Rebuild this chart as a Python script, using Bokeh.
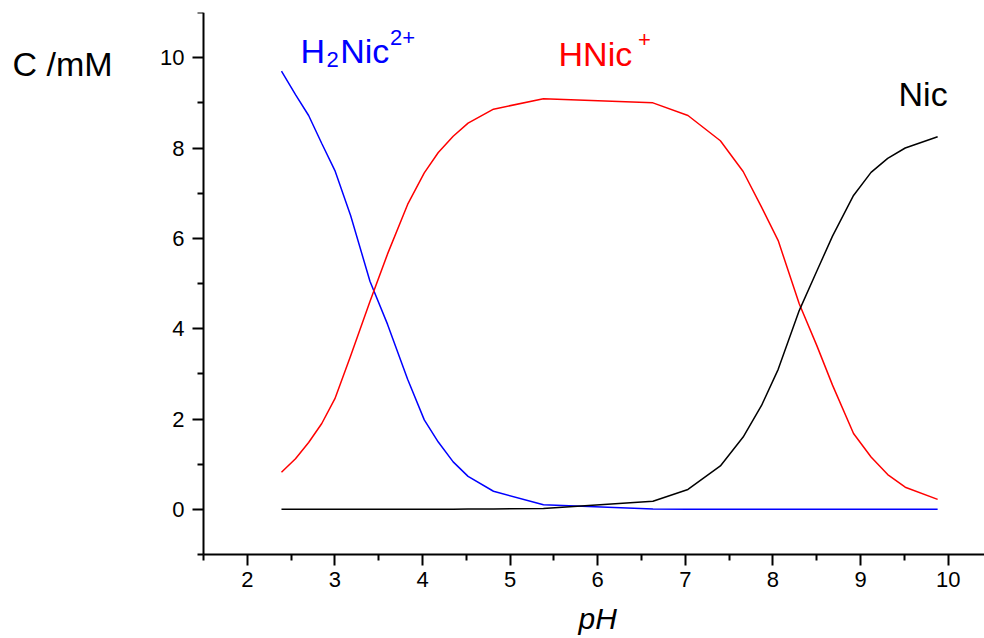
from bokeh.plotting import figure
from bokeh.models import Range1d, FixedTicker, Label, ColumnDataSource, LinearAxis
from bokeh.embed import file_html
from bokeh.resources import INLINE

# ---- data ----
ph = [2.39, 2.55, 2.70, 2.85, 3.00, 3.18, 3.40, 3.60, 3.83, 4.02, 4.18, 4.35, 4.52,
      4.81, 5.38, 6.63, 7.03, 7.40, 7.66, 7.87, 8.06, 8.30, 8.50, 8.68, 8.92, 9.12,
      9.31, 9.51, 9.88]
h2nic = [9.70, 9.18, 8.72, 8.10, 7.50, 6.50, 5.05, 4.10, 2.88, 1.98, 1.49, 1.05, 0.73,
         0.40, 0.10, 0.01, 0.0, 0.0, 0.0, 0.0, 0.0, 0.0, 0.0, 0.0, 0.0, 0.0,
         0.0, 0.0, 0.0]
hnic = [0.82, 1.12, 1.48, 1.90, 2.45, 3.40, 4.60, 5.65, 6.75, 7.45, 7.90, 8.26, 8.55,
        8.86, 9.09, 9.00, 8.72, 8.16, 7.48, 6.69, 5.95, 4.55, 3.63, 2.75, 1.68, 1.16,
        0.77, 0.49, 0.22]
nic = [0.0, 0.0, 0.0, 0.0, 0.0, 0.0, 0.0, 0.0, 0.0, 0.0, 0.0, 0.0, 0.005,
       0.01, 0.02, 0.18, 0.44, 0.96, 1.60, 2.30, 3.10, 4.40, 5.27, 6.05, 6.95, 7.46,
       7.77, 8.00, 8.25]

x_major = [2, 3, 4, 5, 6, 7, 8, 9, 10]
x_minor = [1.5, 2.5, 3.5, 4.5, 5.5, 6.5, 7.5, 8.5, 9.5, 10.5]
y_major = [0, 2, 4, 6, 8, 10]
y_minor = [-1, 1, 3, 5, 7, 9, 11]

FONT = "Liberation Sans"
X0, X1 = 1.5, 10.415          # drawn extent of the x axis
Y0, Y1 = -1, 11               # drawn extent of the y axis
PX_PER_X = 87.6
PX_PER_Y = 45.17
AXIS_X_PX = 203               # left position of the y axis (px)
AXIS_Y_GAP = 84               # distance of the x axis above the bottom (px)

p = figure(width=984, height=638, output_backend="svg", toolbar_location=None,
           x_range=Range1d(X0 - AXIS_X_PX / PX_PER_X, X1),
           y_range=Range1d(Y0 - AXIS_Y_GAP / PX_PER_Y, Y1),
           x_axis_location=None, y_axis_location=None,
           min_border_left=0, min_border_right=0, min_border_top=12,
           min_border_bottom=0, background_fill_color="white",
           border_fill_color="white")
p.outline_line_color = None
p.grid.visible = False

xax = LinearAxis(fixed_location=Y0, bounds=(X0, X1))
yax = LinearAxis(fixed_location=X0, bounds=(Y0, Y1))
p.add_layout(xax, "below")
p.add_layout(yax, "left")

src = ColumnDataSource(dict(ph=ph, h2nic=h2nic, hnic=hnic, nic=nic))
p.line("ph", "h2nic", source=src, color="#0000FF", line_width=1.5)
p.line("ph", "hnic", source=src, color="#FF0000", line_width=1.5)
p.line("ph", "nic", source=src, color="#000000", line_width=1.5)

for ax in (xax, yax):
    ax.axis_line_width = 2
    ax.major_tick_line_width = 2
    ax.minor_tick_line_width = 2
    ax.major_tick_in = 0
    ax.minor_tick_in = 0
    ax.major_tick_out = 11
    ax.minor_tick_out = 6
    ax.major_label_text_font = FONT
    ax.major_label_text_font_size = "22px"
    ax.major_label_text_color = "black"

xax.ticker = FixedTicker(ticks=x_major, minor_ticks=x_minor)
yax.ticker = FixedTicker(ticks=y_major, minor_ticks=y_minor)
xax.major_label_standoff = 6
yax.major_label_standoff = 8


def lab(x, y, text, color, size, align="left", style="normal"):
    p.add_layout(Label(x=x, y=y, text=text, text_color=color, text_font=FONT,
                       text_font_size=size, text_baseline="alphabetic",
                       text_align=align, text_font_style=style))


big = "34px"
small = "22px"
dy = 0.29
# H2Nic2+
lab(2.607, 9.85 + dy, "H", "#0000FF", big)
lab(2.905, 9.67 + dy, "2", "#0000FF", small)
lab(3.06, 9.85 + dy, "Nic", "#0000FF", big)
lab(3.63, 10.16 + dy, "2+", "#0000FF", small)
# HNic+
lab(5.553, 9.80 + dy, "HNic", "#FF0000", big)
lab(6.46, 10.11 + dy, "+", "#FF0000", small)
# Nic
lab(9.434, 8.90 + dy, "Nic", "black", big)
# y label
lab(-0.68, 9.56 + dy, "C /mM", "black", big)
# x label
lab(6.0, -2.68 + 0.26, "pH", "black", "30px", align="center", style="italic")

open("out.html", "w").write(file_html(p, INLINE))
